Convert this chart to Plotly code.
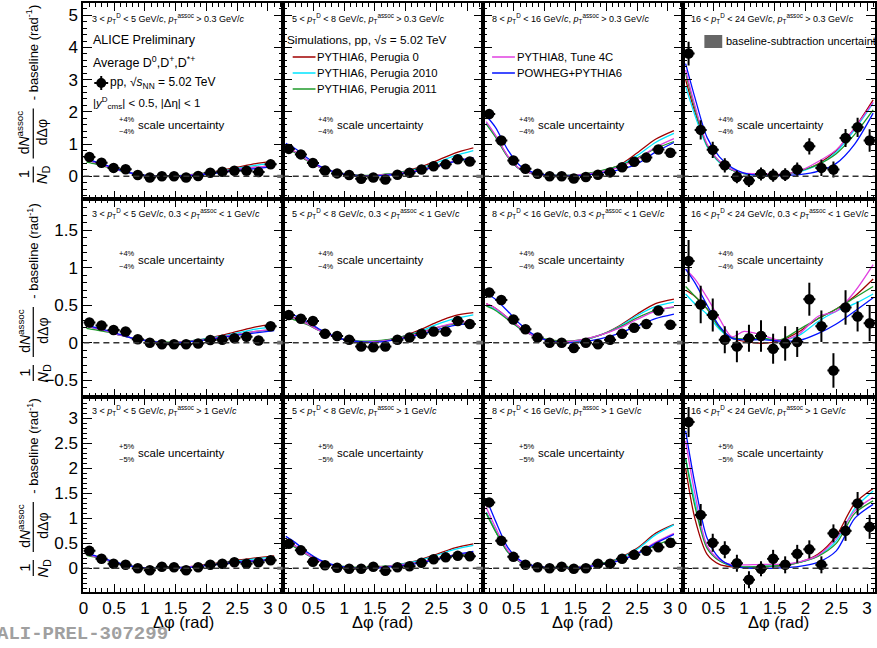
import plotly.graph_objects as go

W, H = 877, 648

# ---------------- data ----------------
DPHI = [0.098, 0.295, 0.491, 0.687, 0.884, 1.080, 1.276, 1.473,
        1.669, 1.865, 2.062, 2.258, 2.454, 2.651, 2.847, 3.043]
DPHI_ERR = [0.098, 0.098, 0.098, 0.098, 0.098, 0.098, 0.098, 0.098,
            0.098, 0.098, 0.098, 0.098, 0.098, 0.098, 0.098, 0.098]
CX = [0.05, 0.2, 0.4, 0.6, 0.8, 1.0, 1.3, 1.6, 1.9, 2.2, 2.5, 2.8, 3.1]

PTD_LABELS = ["3 &lt; <i>p</i><sub>T</sub><sup>D</sup> &lt; 5 GeV/<i>c</i>",
              "5 &lt; <i>p</i><sub>T</sub><sup>D</sup> &lt; 8 GeV/<i>c</i>",
              "8 &lt; <i>p</i><sub>T</sub><sup>D</sup> &lt; 16 GeV/<i>c</i>",
              "16 &lt; <i>p</i><sub>T</sub><sup>D</sup> &lt; 24 GeV/<i>c</i>"]
PTA_LABELS = ["<i>p</i><sub>T</sub><sup>assoc</sup> &gt; 0.3 GeV/<i>c</i>",
              "0.3 &lt; <i>p</i><sub>T</sub><sup>assoc</sup> &lt; 1 GeV/<i>c</i>",
              "<i>p</i><sub>T</sub><sup>assoc</sup> &gt; 1 GeV/<i>c</i>"]
SCALE_UNC = ["4%", "4%", "5%"]

DATA_ROW1 = [
    [0.60, 0.42, 0.26, 0.22, 0.04, -0.04, 0.00, 0.00, -0.04, 0.01, 0.11, 0.14, 0.17, 0.17, 0.13, 0.37],
    [0.85, 0.68, 0.41, 0.18, 0.09, 0.04, -0.08, -0.04, -0.10, 0.05, 0.11, 0.21, 0.31, 0.37, 0.53, 0.46],
    [1.93, 1.11, 0.49, 0.23, 0.08, 0.00, 0.00, -0.07, -0.02, 0.05, 0.12, 0.28, 0.45, 0.58, 0.83, 0.73],
    [3.81, 1.44, 0.82, 0.34, -0.02, -0.13, 0.07, 0.03, 0.05, 0.21, 0.93, 0.26, 0.21, 1.19, 1.52, 1.11]]
ERR_ROW1 = [
    [0.05, 0.04, 0.04, 0.04, 0.04, 0.04, 0.04, 0.04, 0.04, 0.04, 0.04, 0.04, 0.04, 0.04, 0.04, 0.05],
    [0.06, 0.05, 0.05, 0.05, 0.05, 0.05, 0.05, 0.05, 0.05, 0.05, 0.05, 0.05, 0.05, 0.05, 0.05, 0.06],
    [0.08, 0.07, 0.06, 0.06, 0.06, 0.06, 0.06, 0.06, 0.06, 0.06, 0.06, 0.06, 0.06, 0.06, 0.07, 0.07],
    [0.37, 0.30, 0.25, 0.22, 0.20, 0.20, 0.20, 0.20, 0.20, 0.22, 0.25, 0.25, 0.25, 0.28, 0.30, 0.35]]
DATA_ROW2 = [
    [0.27, 0.23, 0.17, 0.15, 0.045, 0.00, -0.02, -0.02, -0.02, -0.01, 0.035, 0.04, 0.06, 0.08, 0.03, 0.22],
    [0.37, 0.32, 0.29, 0.12, 0.09, 0.04, -0.05, -0.06, -0.05, 0.04, 0.07, 0.12, 0.15, 0.15, 0.29, 0.25],
    [0.67, 0.57, 0.31, 0.18, 0.07, 0.00, 0.00, -0.07, 0.00, -0.02, 0.04, 0.12, 0.20, 0.25, 0.43, 0.24],
    [1.09, 0.51, 0.37, 0.04, -0.05, 0.06, 0.09, -0.08, -0.01, 0.01, 0.58, 0.22, -0.37, 0.47, 0.35, 0.26]]
ERR_ROW2 = [
    [0.02, 0.02, 0.02, 0.02, 0.02, 0.02, 0.02, 0.02, 0.02, 0.02, 0.02, 0.02, 0.02, 0.02, 0.02, 0.02],
    [0.03, 0.03, 0.03, 0.03, 0.03, 0.03, 0.03, 0.03, 0.03, 0.03, 0.03, 0.03, 0.03, 0.03, 0.03, 0.03],
    [0.04, 0.04, 0.03, 0.03, 0.03, 0.03, 0.03, 0.03, 0.03, 0.03, 0.03, 0.03, 0.03, 0.03, 0.04, 0.04],
    [0.28, 0.25, 0.22, 0.18, 0.21, 0.18, 0.21, 0.20, 0.23, 0.20, 0.22, 0.21, 0.23, 0.23, 0.20, 0.24]]
DATA_ROW3 = [
    [0.35, 0.19, 0.09, 0.07, 0.00, -0.04, 0.03, 0.02, -0.04, 0.02, 0.07, 0.09, 0.12, 0.09, 0.12, 0.16],
    [0.49, 0.36, 0.13, 0.06, 0.01, -0.01, -0.01, 0.03, -0.05, 0.02, 0.04, 0.11, 0.18, 0.22, 0.25, 0.24],
    [1.32, 0.55, 0.23, 0.07, 0.02, 0.00, 0.03, -0.01, 0.00, 0.09, 0.09, 0.19, 0.27, 0.35, 0.42, 0.51],
    [2.93, 1.07, 0.51, 0.37, 0.10, -0.23, -0.01, 0.19, 0.07, 0.29, 0.38, 0.07, 0.70, 0.75, 1.30, 0.83]]
ERR_ROW3 = [
    [0.03, 0.02, 0.02, 0.02, 0.02, 0.02, 0.02, 0.02, 0.02, 0.02, 0.02, 0.02, 0.02, 0.02, 0.02, 0.03],
    [0.04, 0.03, 0.03, 0.03, 0.03, 0.03, 0.03, 0.03, 0.03, 0.03, 0.03, 0.03, 0.03, 0.03, 0.03, 0.04],
    [0.06, 0.05, 0.04, 0.04, 0.04, 0.04, 0.04, 0.04, 0.04, 0.04, 0.04, 0.04, 0.04, 0.04, 0.05, 0.05],
    [0.30, 0.22, 0.18, 0.17, 0.17, 0.17, 0.15, 0.18, 0.17, 0.18, 0.18, 0.17, 0.18, 0.20, 0.23, 0.24]]

# model curves (values at CX)  -- PYTHIA6 Perugia 0
P0_ROW1 = [
    [0.52, 0.43, 0.30, 0.18, 0.09, 0.03, 0.00, 0.02, 0.08, 0.17, 0.28, 0.39, 0.47],
    [0.92, 0.76, 0.50, 0.29, 0.15, 0.07, 0.02, 0.04, 0.12, 0.27, 0.48, 0.72, 0.88],
    [1.66, 1.25, 0.62, 0.22, 0.09, 0.04, 0.02, 0.05, 0.15, 0.33, 0.72, 1.15, 1.42],
    [3.00, 2.00, 0.95, 0.45, 0.20, 0.08, 0.03, 0.04, 0.15, 0.38, 0.80, 1.50, 2.37]]
P0_ROW2 = [
    [0.22, 0.19, 0.15, 0.10, 0.06, 0.03, 0.00, 0.01, 0.04, 0.09, 0.15, 0.21, 0.25],
    [0.37, 0.33, 0.26, 0.17, 0.09, 0.04, 0.01, 0.02, 0.07, 0.16, 0.27, 0.36, 0.40],
    [0.52, 0.46, 0.33, 0.20, 0.10, 0.04, 0.01, 0.03, 0.10, 0.22, 0.38, 0.52, 0.58],
    [0.70, 0.62, 0.45, 0.20, 0.06, 0.02, -0.01, 0.03, 0.15, 0.32, 0.45, 0.62, 0.85]]
P0_ROW3 = [
    [0.29, 0.24, 0.16, 0.09, 0.04, 0.01, 0.00, 0.02, 0.06, 0.11, 0.16, 0.21, 0.25],
    [0.55, 0.45, 0.28, 0.15, 0.07, 0.03, 0.01, 0.03, 0.08, 0.16, 0.28, 0.41, 0.49],
    [1.12, 0.75, 0.33, 0.13, 0.05, 0.02, 0.01, 0.03, 0.09, 0.20, 0.40, 0.70, 0.88],
    [2.00, 1.00, 0.28, 0.08, 0.03, 0.02, 0.03, 0.05, 0.12, 0.28, 0.65, 1.30, 1.60]]
# PYTHIA6 Perugia 2010
P2010_ROW1 = [
    [0.52, 0.43, 0.30, 0.18, 0.09, 0.03, 0.00, 0.02, 0.07, 0.15, 0.25, 0.34, 0.41],
    [0.90, 0.75, 0.50, 0.28, 0.14, 0.07, 0.02, 0.04, 0.11, 0.24, 0.42, 0.64, 0.80],
    [1.64, 1.23, 0.61, 0.21, 0.09, 0.04, 0.02, 0.05, 0.15, 0.31, 0.64, 1.05, 1.33],
    [2.80, 1.90, 0.92, 0.43, 0.20, 0.08, 0.03, 0.04, 0.14, 0.35, 0.75, 1.45, 2.27]]
P2010_ROW2 = [
    [0.22, 0.19, 0.15, 0.10, 0.06, 0.03, 0.00, 0.01, 0.04, 0.08, 0.13, 0.18, 0.21],
    [0.36, 0.32, 0.25, 0.16, 0.09, 0.04, 0.01, 0.02, 0.07, 0.14, 0.24, 0.32, 0.37],
    [0.50, 0.44, 0.32, 0.19, 0.10, 0.04, 0.01, 0.03, 0.10, 0.21, 0.36, 0.48, 0.54],
    [0.65, 0.52, 0.38, 0.18, 0.06, 0.04, 0.05, 0.03, 0.10, 0.28, 0.42, 0.52, 0.65]]
P2010_ROW3 = [
    [0.28, 0.23, 0.16, 0.09, 0.04, 0.01, 0.00, 0.02, 0.05, 0.10, 0.15, 0.19, 0.23],
    [0.54, 0.44, 0.27, 0.15, 0.07, 0.03, 0.01, 0.03, 0.08, 0.15, 0.26, 0.38, 0.46],
    [1.12, 0.75, 0.33, 0.13, 0.05, 0.02, 0.01, 0.03, 0.09, 0.19, 0.38, 0.67, 0.87],
    [2.20, 1.35, 0.42, 0.15, 0.05, 0.03, 0.04, 0.06, 0.12, 0.25, 0.55, 1.20, 1.55]]
# PYTHIA6 Perugia 2011
P2011_ROW1 = [
    [0.44, 0.38, 0.28, 0.17, 0.09, 0.03, 0.01, 0.03, 0.08, 0.15, 0.22, 0.28, 0.33],
    [0.88, 0.73, 0.48, 0.28, 0.15, 0.08, 0.03, 0.05, 0.11, 0.20, 0.33, 0.46, 0.56],
    [1.62, 1.22, 0.60, 0.21, 0.09, 0.05, 0.03, 0.06, 0.17, 0.32, 0.56, 0.86, 1.08],
    [3.20, 2.10, 0.95, 0.45, 0.20, 0.09, 0.04, 0.05, 0.17, 0.36, 0.70, 1.30, 2.06]]
P2011_ROW2 = [
    [0.19, 0.17, 0.14, 0.10, 0.06, 0.03, 0.01, 0.01, 0.04, 0.07, 0.11, 0.15, 0.17],
    [0.34, 0.30, 0.24, 0.16, 0.09, 0.04, 0.02, 0.03, 0.07, 0.13, 0.20, 0.25, 0.28],
    [0.49, 0.43, 0.31, 0.19, 0.10, 0.05, 0.02, 0.04, 0.10, 0.20, 0.33, 0.43, 0.47],
    [0.75, 0.62, 0.45, 0.20, 0.07, 0.05, 0.06, 0.04, 0.18, 0.32, 0.45, 0.60, 0.75]]
P2011_ROW3 = [
    [0.26, 0.22, 0.15, 0.09, 0.04, 0.01, 0.01, 0.02, 0.05, 0.09, 0.13, 0.16, 0.18],
    [0.52, 0.42, 0.27, 0.15, 0.07, 0.04, 0.02, 0.04, 0.07, 0.12, 0.18, 0.25, 0.30],
    [1.10, 0.74, 0.33, 0.13, 0.05, 0.02, 0.02, 0.04, 0.09, 0.17, 0.29, 0.46, 0.60],
    [2.20, 1.25, 0.40, 0.15, 0.05, 0.03, 0.04, 0.06, 0.12, 0.24, 0.50, 1.10, 1.35]]
# PYTHIA8 Tune 4C
P8_ROW1 = [
    [0.50, 0.42, 0.30, 0.18, 0.09, 0.03, 0.00, 0.02, 0.07, 0.14, 0.22, 0.28, 0.33],
    [0.92, 0.76, 0.50, 0.29, 0.15, 0.07, 0.02, 0.04, 0.10, 0.19, 0.32, 0.47, 0.58],
    [1.70, 1.28, 0.63, 0.22, 0.09, 0.04, 0.02, 0.05, 0.14, 0.28, 0.52, 0.90, 1.17],
    [3.30, 2.20, 1.00, 0.47, 0.21, 0.10, 0.08, 0.06, 0.16, 0.45, 0.82, 1.50, 2.30]]
P8_ROW2 = [
    [0.22, 0.19, 0.15, 0.10, 0.06, 0.03, 0.00, 0.01, 0.03, 0.07, 0.11, 0.15, 0.18],
    [0.36, 0.32, 0.25, 0.16, 0.09, 0.04, 0.01, 0.02, 0.06, 0.12, 0.20, 0.26, 0.29],
    [0.52, 0.46, 0.33, 0.20, 0.10, 0.04, 0.01, 0.04, 0.10, 0.19, 0.31, 0.42, 0.48],
    [0.98, 0.85, 0.60, 0.32, 0.08, 0.15, 0.10, 0.03, 0.12, 0.35, 0.42, 0.68, 1.04]]
P8_ROW3 = [
    [0.28, 0.23, 0.16, 0.09, 0.04, 0.01, 0.00, 0.02, 0.05, 0.09, 0.13, 0.16, 0.19],
    [0.55, 0.45, 0.28, 0.15, 0.07, 0.03, 0.01, 0.03, 0.07, 0.12, 0.19, 0.27, 0.32],
    [1.22, 0.82, 0.36, 0.14, 0.05, 0.02, 0.01, 0.03, 0.08, 0.16, 0.30, 0.52, 0.70],
    [2.55, 1.50, 0.45, 0.17, 0.07, 0.07, 0.08, 0.08, 0.13, 0.26, 0.60, 1.15, 1.42]]
# POWHEG+PYTHIA6
PW_ROW1 = [
    [0.55, 0.45, 0.32, 0.19, 0.09, 0.03, 0.00, 0.01, 0.05, 0.11, 0.18, 0.24, 0.30],
    [1.02, 0.86, 0.57, 0.32, 0.16, 0.07, 0.01, 0.02, 0.07, 0.16, 0.30, 0.46, 0.58],
    [1.88, 1.52, 0.82, 0.33, 0.13, 0.05, 0.01, 0.03, 0.10, 0.20, 0.38, 0.75, 1.05],
    [3.50, 2.45, 1.20, 0.60, 0.27, 0.10, 0.02, 0.02, 0.05, 0.15, 0.40, 1.00, 1.96]]
PW_ROW2 = [
    [0.24, 0.20, 0.16, 0.11, 0.06, 0.03, 0.00, 0.00, 0.03, 0.06, 0.10, 0.13, 0.16],
    [0.41, 0.36, 0.28, 0.18, 0.10, 0.04, 0.01, 0.01, 0.05, 0.10, 0.17, 0.23, 0.26],
    [0.66, 0.58, 0.42, 0.25, 0.12, 0.04, 0.00, 0.01, 0.05, 0.12, 0.22, 0.32, 0.38],
    [0.98, 0.80, 0.50, 0.22, 0.06, 0.04, 0.04, 0.02, 0.03, 0.12, 0.25, 0.42, 0.60]]
PW_ROW3 = [
    [0.30, 0.25, 0.17, 0.10, 0.04, 0.01, 0.00, 0.01, 0.04, 0.08, 0.12, 0.15, 0.18],
    [0.64, 0.52, 0.32, 0.17, 0.08, 0.03, 0.00, 0.01, 0.05, 0.10, 0.18, 0.27, 0.34],
    [1.40, 0.95, 0.42, 0.16, 0.06, 0.02, 0.01, 0.02, 0.07, 0.15, 0.29, 0.50, 0.68],
    [2.75, 1.70, 0.60, 0.20, 0.05, 0.01, 0.00, 0.01, 0.04, 0.12, 0.35, 1.00, 1.28]]

BASELINE_UNC = [[0.05, 0.05, 0.05, 0.06],
                [0.025, 0.025, 0.025, 0.025],
                [0.03, 0.03, 0.03, 0.03]]

MODEL_NAMES = ["PYTHIA6, Perugia 0", "PYTHIA6, Perugia 2010", "PYTHIA6, Perugia 2011",
               "PYTHIA8, Tune 4C", "POWHEG+PYTHIA6"]
MODEL_COLORS = ["#a00000", "#00e5ff", "#1f9a2a", "#e040e0", "#0010ff"]

DATA = [DATA_ROW1, DATA_ROW2, DATA_ROW3]
ERRS = [ERR_ROW1, ERR_ROW2, ERR_ROW3]
MODELS = [[P0_ROW1, P0_ROW2, P0_ROW3], [P2010_ROW1, P2010_ROW2, P2010_ROW3],
          [P2011_ROW1, P2011_ROW2, P2011_ROW3], [P8_ROW1, P8_ROW2, P8_ROW3],
          [PW_ROW1, PW_ROW2, PW_ROW3]]

# ---------------- layout geometry (pixels) ----------------
LEFT = [79, 280, 482, 683]
RIGHT = [280, 482, 683, 877]
XRANGE = [[0, 3.24], [0, 3.26], [0, 3.24], [0, 3.13]]
TOP = [3, 198.5, 397]
BOT = [198.5, 397, 592]
YRANGE = [[-0.69, 5.38], [-0.724, 1.923], [-0.474, 3.43]]
YDTICK = [1, 0.5, 0.5]
YMINOR = [0.2, 0.1, 0.1]

FN = "Liberation Sans, Arial, sans-serif"
FT = "Liberation Sans, Arial, sans-serif"


def px(x):
    return x / W


def py(y):
    return 1 - y / H


fig = go.Figure()
layout = dict(width=W, height=H, margin=dict(l=0, r=0, t=0, b=0),
              paper_bgcolor="white", plot_bgcolor="white", showlegend=False)
shapes = []
annotations = []


def ann(x, y, text, size, xanchor="left", yanchor="middle", family=FN,
        color="black", angle=0):
    if xanchor == "left":
        x = x - 4
    annotations.append(dict(x=px(x), y=py(y), xref="paper", yref="paper",
                            text=text, showarrow=False, xanchor=xanchor,
                            yanchor=yanchor, textangle=angle, borderpad=0,
                            font=dict(family=family, size=size, color=color)))


for r in range(3):
    for c in range(4):
        k = r * 4 + c + 1
        xa = "x" if k == 1 else f"x{k}"
        ya = "y" if k == 1 else f"y{k}"
        xkey = "xaxis" if k == 1 else f"xaxis{k}"
        ykey = "yaxis" if k == 1 else f"yaxis{k}"
        layout[xkey] = dict(
            domain=[px(LEFT[c]), px(RIGHT[c])], range=XRANGE[c], anchor=ya,
            showline=True, linecolor="black", linewidth=2, mirror="allticks",
            ticks="inside", ticklen=8, tickwidth=1.2, tickcolor="black",
            tick0=0, dtick=0.5, showgrid=False, zeroline=False,
            showticklabels=(r == 2),
            tickfont=dict(family=FT, size=17, color="black"),
            minor=dict(ticks="inside", ticklen=4, dtick=0.1, tickcolor="black",
                       tickwidth=1, showgrid=False))
        layout[ykey] = dict(
            domain=[py(BOT[r]), py(TOP[r])], range=YRANGE[r], anchor=xa,
            showline=True, linecolor="black", linewidth=2, mirror="allticks",
            ticks="inside", ticklen=9, tickwidth=1.2, tickcolor="black",
            tick0=0, dtick=YDTICK[r], showgrid=False, zeroline=False,
            showticklabels=(c == 0),
            tickfont=dict(family=FT, size=17, color="black"),
            minor=dict(ticks="inside", ticklen=4, dtick=YMINOR[r], tickcolor="black",
                       tickwidth=1, showgrid=False))

        # zero line
        shapes.append(dict(type="line", xref=xa, yref=ya, x0=0, x1=XRANGE[c][1],
                           y0=0, y1=0, line=dict(color="#333333", width=1.5, dash="6px,4px")))
        # baseline-subtraction uncertainty box
        bu = BASELINE_UNC[r][c]
        shapes.append(dict(type="rect", xref=xa, yref=ya, x0=3.15, x1=3.26,
                           y0=-bu, y1=bu, fillcolor="#707070", line=dict(width=0)))

        # model curves
        for m in range(5):
            fig.add_trace(go.Scatter(
                x=CX, y=MODELS[m][r][c], mode="lines", xaxis=xa, yaxis=ya,
                line=dict(color=MODEL_COLORS[m], width=1.3, shape="spline", smoothing=0.8),
                name=MODEL_NAMES[m], hoverinfo="skip"))
        # data
        fig.add_trace(go.Scatter(
            x=DPHI, y=DATA[r][c], mode="markers", xaxis=xa, yaxis=ya,
            marker=dict(symbol="circle", size=10.5, color="black"),
            error_x=dict(type="data", array=DPHI_ERR, thickness=2, width=0, color="black"),
            error_y=dict(type="data", array=ERRS[r][c], thickness=2, width=0, color="black"),
            name="pp"))

        # panel header
        hy = [18, 213, 410][r]
        ann(LEFT[c] + 12, hy, PTD_LABELS[c] + ", " + PTA_LABELS[r], 9)
        # scale uncertainty
        sy = [125, 260, 453][r]
        ann(LEFT[c] + 39, sy - 6, "+" + SCALE_UNC[r], 7.5)
        ann(LEFT[c] + 39, sy + 6, "\u2212" + SCALE_UNC[r], 7.5)
        ann(LEFT[c] + 58, sy, "scale uncertainty", 11.5)

    # y-axis title (stacked fractions)
    B = BOT[r]
    ann(19, B - 24, "1", 15, xanchor="center", angle=-90)
    ann(38, B - 24, "<i>N</i><sub>D</sub>", 15, xanchor="center", angle=-90)
    shapes.append(dict(type="line", xref="paper", yref="paper", x0=px(28.5), x1=px(28.5),
                       y0=py(B - 32), y1=py(B - 16), line=dict(color="black", width=1.2)))
    ann(19, B - 66, "d<i>N</i><sup>assoc</sup>", 14, xanchor="center", angle=-90)
    ann(38, B - 66, "dΔφ", 14, xanchor="center", angle=-90)
    shapes.append(dict(type="line", xref="paper", yref="paper", x0=px(28.5), x1=px(28.5),
                       y0=py(B - 90), y1=py(B - 40), line=dict(color="black", width=1.2)))
    ann(28, B - 146, "- baseline (rad<sup>-1</sup>)", 13, xanchor="center", angle=-90)

# x-axis titles
for c in range(4):
    ann((LEFT[c] + min(RIGHT[c], LEFT[c] + 202)) / 2, 622, "Δφ (rad)", 16.5,
        xanchor="center", family=FT)

# panel 1 legend texts
ann(92, 40, "ALICE Preliminary", 12.5)
ann(92, 62, "Average D<sup>0</sup>,D<sup>+</sup>,D<sup>*+</sup>", 12.5)
ann(109, 83, "pp, √<i>s</i><sub>NN</sub> = 5.02 TeV", 12)
ann(92, 103, "|<i>y</i><sup>D</sup><sub>cms</sub>| &lt; 0.5, |Δη| &lt; 1", 11.5)
shapes.append(dict(type="circle", xref="paper", yref="paper", x0=px(92), x1=px(102),
                   y0=py(88), y1=py(78), fillcolor="black", line=dict(width=0)))
shapes.append(dict(type="line", xref="paper", yref="paper", x0=px(90), x1=px(104),
                   y0=py(83), y1=py(83), line=dict(color="black", width=2)))
shapes.append(dict(type="line", xref="paper", yref="paper", x0=px(97), x1=px(97),
                   y0=py(76), y1=py(90), line=dict(color="black", width=2)))

# panel 2 & 3 legends
ann(287, 40, "Simulations, pp, √<i>s</i> = 5.02 TeV", 11.8)
leg_pos = [(290, 57), (290, 73), (290, 89), (491, 57), (491, 73)]
for m in range(5):
    lx, ly = leg_pos[m]
    shapes.append(dict(type="line", xref="paper", yref="paper", x0=px(lx), x1=px(lx + 23),
                       y0=py(ly), y1=py(ly), line=dict(color=MODEL_COLORS[m], width=1.5)))
    ann(lx + 28, ly, MODEL_NAMES[m], 11.3)

# panel 4 legend
shapes.append(dict(type="rect", xref="paper", yref="paper", x0=px(705), x1=px(723),
                   y0=py(48), y1=py(35), fillcolor="#666666", line=dict(width=0)))
ann(730, 41, "baseline-subtraction uncertainty", 11)

# preliminary tag
annotations.append(dict(x=px(-9), y=py(634), xref="paper", yref="paper",
                        text="<b>ALI-PREL-307299</b>", showarrow=False,
                        xanchor="left", yanchor="middle", borderpad=0,
                        font=dict(family="Liberation Mono, Courier New, monospace",
                                  size=19, color="#a0a0a0")))

layout["shapes"] = shapes
layout["annotations"] = annotations
fig.update_layout(**layout)
fig.write_html("out.html")
